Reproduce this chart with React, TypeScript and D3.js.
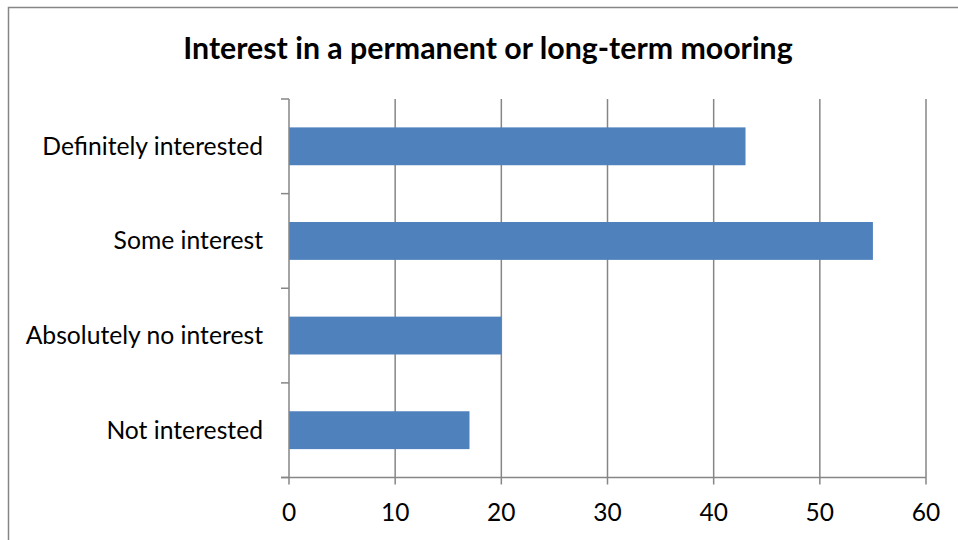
import React from 'react'
import * as d3 from 'd3'

const categories = ['Definitely interested', 'Some interest', 'Absolutely no interest', 'Not interested']
const values = [43, 55, 20, 17]
const xTicks = [0, 10, 20, 30, 40, 50, 60]
const title = 'Interest in a permanent or long-term mooring'

const width = 958
const height = 540
const margin = { top: 99, right: 32, bottom: 62.5, left: 289 }
const grey = '#868686'
const font = 'Lato, "Open Sans", sans-serif'

function App() {
  const x = d3.scaleLinear()
    .domain([0, 60])
    .range([margin.left, width - margin.right])

  const y = d3.scaleBand<string>()
    .domain(categories)
    .range([margin.top, height - margin.bottom])
    .paddingInner(0.6)
    .paddingOuter(0.3)

  const bottom = height - margin.bottom
  const step = y.step()
  const boundaries = d3.range(categories.length + 1).map(i => margin.top + i * step)

  return (
    <svg width={width} height={height} style={{ position: 'absolute', left: 0, top: 0, background: '#fff' }}>
      <path d={`M8.5,${height + 5} V7.5 H${width + 5}`} fill="none" stroke={grey} strokeWidth={1.5} />
      <text x={488} y={59} textAnchor="middle" fontFamily={font} fontWeight="bold" fontSize={30.3} fill="#000">
        {title}
      </text>

      {/* vertical gridlines */}
      {xTicks.filter(t => t > 0).map(t => (
        <line key={t} x1={x(t)} x2={x(t)} y1={margin.top} y2={bottom + 7} stroke={grey} strokeWidth={1.5} />
      ))}

      {categories.map((c, i) => (
        <rect key={c} x={x(0)} y={y(c)!} width={x(values[i]) - x(0)} height={y.bandwidth()} fill="#4F81BD" />
      ))}

      {/* category axis */}
      <line x1={x(0)} x2={x(0)} y1={margin.top} y2={bottom + 7} stroke={grey} strokeWidth={1.5} />
      {boundaries.map((b, i) => (
        <line key={i} x1={x(0) - 8} x2={x(0)} y1={b} y2={b} stroke={grey} strokeWidth={1.5} />
      ))}
      {categories.map(c => (
        <text key={c} x={263} y={y(c)! + y.bandwidth() / 2 + 8.5} textAnchor="end" fontFamily={font} fontSize={24.7} fill="#000">
          {c}
        </text>
      ))}

      {/* value axis */}
      <line x1={x(0) - 8} x2={x(60)} y1={bottom} y2={bottom} stroke={grey} strokeWidth={1.5} />
      {xTicks.map(t => (
        <text key={t} x={x(t)} y={521} textAnchor="middle" fontFamily={font} fontSize={24.5} fill="#000">
          {t}
        </text>
      ))}
    </svg>
  )
}

export default App
